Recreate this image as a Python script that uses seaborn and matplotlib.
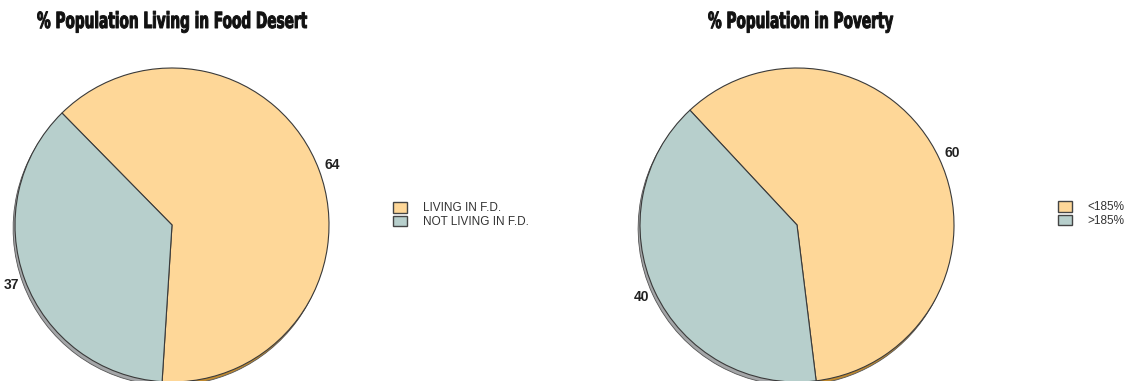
import matplotlib
matplotlib.use("Agg")
import matplotlib.pyplot as plt
import matplotlib.patheffects as pe
from matplotlib.transforms import Affine2D
import seaborn as sns

# Chart data
food_labels = ["LIVING IN F.D.", "NOT LIVING IN F.D."]
food_values = [64, 37]
poverty_labels = ["<185%", ">185%"]
poverty_values = [60, 40]
titles = ["% Population Living in Food Desert", "% Population in Poverty"]

sns.set_theme(style="white")
plt.rcParams["font.family"] = ["Liberation Sans", "DejaVu Sans"]

slice_colors = ["#FED798", "#B7CFCC"]
shadow_colors = ["#C08A30", "#A4A6A8"]

W, H = 1131, 381
fig = plt.figure(figsize=(W / 100, H / 100), dpi=100)
fig.patch.set_facecolor("white")

R = 157  # pie radius in pixels


class Condensed(pe.AbstractPathEffect):
    """Draw text glyphs squeezed horizontally (about the text origin) and emboldened."""

    def __init__(self, sx=0.6, stroke=0.0):
        super().__init__()
        self.sx = sx
        self.stroke = stroke

    def draw_path(self, renderer, gc, tpath, affine, rgbFace):
        aff = Affine2D().scale(self.sx, 1.0) + affine
        gc0 = renderer.new_gc()
        gc0.copy_properties(gc)
        if self.stroke:
            gc0.set_linewidth(self.stroke)
            gc0.set_foreground(rgbFace)
            gc0.set_joinstyle("round")
        renderer.draw_path(gc0, tpath, aff, rgbFace)
        gc0.restore()


def draw_pie(cx, cy, values, labels, title, title_left, legend_xy, start):
    ax = fig.add_axes([(cx - R) / W, (H - cy - R) / H, 2 * R / W, 2 * R / H])
    # depth edge under the pie
    ax.pie(values, colors=shadow_colors, startangle=start, counterclock=False,
           center=(-0.012, -0.022), radius=1.0,
           wedgeprops=dict(linewidth=0.6, edgecolor="#555555"))
    wedges, texts = ax.pie(values, colors=slice_colors, startangle=start,
                           counterclock=False, radius=1.0,
                           labels=[str(v) for v in values], labeldistance=1.09,
                           wedgeprops=dict(linewidth=0.8, edgecolor="#3a3a3a"),
                           textprops=dict(fontsize=10, fontweight="bold", color="#222222"))
    for t in texts:
        t.set_ha("center")
        t.set_va("center")
    ax.set_xlim(-1, 1)
    ax.set_ylim(-1, 1)
    ax.set_aspect("equal")
    ax.axis("off")
    fig.text(title_left / W, 1 - 28 / H, title, ha="left", va="baseline",
             fontsize=16, fontweight="bold", color="#111111",
             family="DejaVu Sans",
             path_effects=[Condensed(sx=0.615, stroke=0.7)])
    leg = fig.legend(wedges, labels, loc="upper left",
                     bbox_to_anchor=(legend_xy[0] / W, 1 - legend_xy[1] / H),
                     frameon=False, fontsize=8.5, handlelength=1.2,
                     handleheight=1.0, handletextpad=1.3, labelspacing=0.12,
                     borderaxespad=0, borderpad=0)
    for t in leg.get_texts():
        t.set_color("#333333")
    for h in leg.legend_handles:
        h.set_edgecolor("#444444")
        h.set_linewidth(1.0)
    return ax


draw_pie(172, 225, food_values, food_labels, titles[0], 37, (393, 202), 134.5)
draw_pie(797, 225, poverty_values, poverty_labels, titles[1], 708, (1058, 201), 133)

fig.savefig("out.png", dpi=100, facecolor="white")
